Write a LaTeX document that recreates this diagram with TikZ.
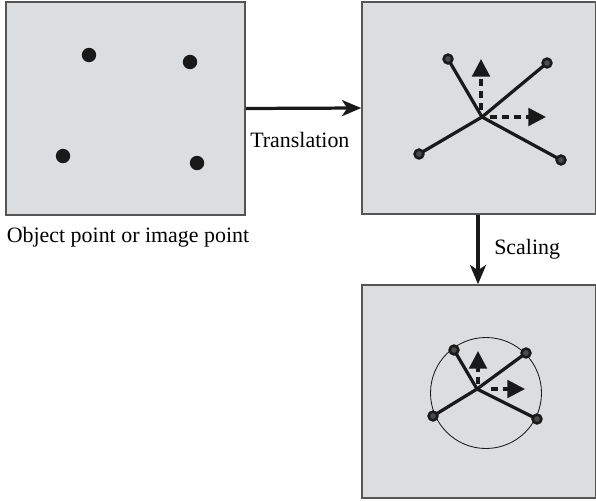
\documentclass[tikz,border=0pt]{standalone}
\usepackage{fontspec}
\setmainfont{Liberation Serif}
\usepackage{tikz}
\usetikzlibrary{positioning,calc,arrows.meta}
\usepackage{xcolor}
\definecolor{panelcolor}{RGB}{220, 221, 223}
\definecolor{framecolor}{RGB}{85, 85, 85}
\definecolor{inkcolor}{RGB}{25, 25, 25}

\begin{document}
\begin{tikzpicture}[
    x=0.025cm, y=-0.025cm,
    panel/.style={rectangle, draw=framecolor, line width=1.1pt, fill=panelcolor, inner sep=0pt},
    pnode/.style={circle, fill=inkcolor, minimum size=0.36cm, inner sep=0pt},
    enode/.style={circle, draw=inkcolor, fill=inkcolor!75!panelcolor, line width=1.8pt, minimum size=0.22cm, inner sep=0pt},
    cnode/.style={coordinate},
    rod/.style={inkcolor, line width=2.3pt},
    move/.style={-{Stealth[length=0.48cm, width=0.4cm, inset=0.13cm]}, inkcolor, line width=2.3pt},
    axis/.style={-{Triangle[length=0.44cm, width=0.44cm]}, inkcolor, line width=2.3pt, dash pattern=on 5pt off 3.5pt},
    lbl/.style={font=\fontsize{15.6}{18}\selectfont, inner sep=0pt}
]
    \useasboundingbox (0,0) rectangle (596,500);

    % Panels
    \node[panel, minimum width=239*0.025cm, minimum height=213*0.025cm] (p1) at (125.5,108.5) {};
    \node[panel, minimum width=234*0.025cm, minimum height=212*0.025cm] (p2) at (479,108) {};
    \node[panel, minimum width=234*0.025cm, minimum height=213*0.025cm] (p3) at (479,391.5) {};

    % Object points
    \node[pnode] (o1) at (89,55) {};
    \node[pnode] (o2) at (190,62) {};
    \node[pnode] (o3) at (63,156) {};
    \node[pnode] (o4) at (197,163) {};

    % Translated points
    \node[cnode] (t0) at (482,117) {};
    \node[cnode] (tu) at (481,59) {};
    \node[cnode] (tr) at (546,117) {};
    \draw[rod] (t0) -- (448,59) node[enode] (t1) {};
    \draw[rod] (t0) -- (547,63) node[enode] (t2) {};
    \draw[rod] (t0) -- (419,154) node[enode] (t3) {};
    \draw[rod] (t0) -- (561,160) node[enode] (t4) {};
    \draw[axis] ($(t0)+(-1,-7)$) -- (tu);
    \draw[axis] ($(t0)+(8,0)$) -- (tr);

    % Scaled points
    \node[circle, draw=inkcolor, line width=0.6pt, minimum size=111*0.025cm, inner sep=0pt] (ring) at (486,393) {};
    \node[cnode] (s0) at (477,389) {};
    \node[cnode] (su) at (478,351) {};
    \node[cnode] (sr) at (525,389) {};
    \draw[rod] (s0) -- (454,350) node[enode] (s1) {};
    \draw[rod] (s0) -- (526,353) node[enode] (s2) {};
    \draw[rod] (s0) -- (433,416) node[enode] (s3) {};
    \draw[rod] (s0) -- (537,419) node[enode] (s4) {};
    \draw[axis] ($(s0)+(1,-5)$) -- (su);
    \draw[axis] ($(s0)+(14,0)$) -- (sr);

    % Transforms
    \draw[move] (p1.east) -- (p2.west);
    \draw[move] (p2.south -| 478,0) -- (p3.north -| 478,0);

    % Labels
    \node[lbl, anchor=west] (tlbl) at (250,140) {Translation};
    \node[lbl] (olbl) at (128,237) {Object point or image point};
    \node[lbl, anchor=west] (slbl) at (494,249) {Scaling};
\end{tikzpicture}
\end{document}
